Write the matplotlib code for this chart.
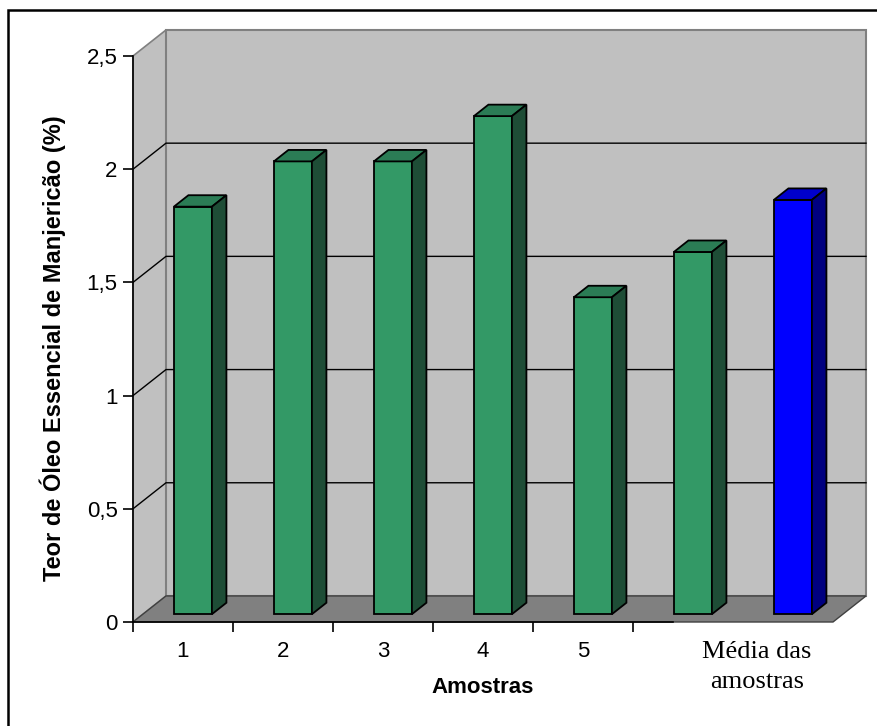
import matplotlib
matplotlib.use("Agg")
import matplotlib.pyplot as plt
from matplotlib.patches import Polygon, Rectangle

# Oil content per sample, plus the mean of the samples as last bar
categorias = ["1", "2", "3", "4", "5", "", "Média das\namostras"]
teor = [1.8, 2.0, 2.0, 2.2, 1.4, 1.6, 1.83]
cores_frente = ["#339966"] * 6 + ["#0000FF"]
cores_topo = ["#2B7C55"] * 6 + ["#0000CC"]
cores_lado = ["#1E4D36"] * 6 + ["#000080"]
y_ticks = [0, 0.5, 1, 1.5, 2, 2.5]
y_ticklabels = ["0", "0,5", "1", "1,5", "2", "2,5"]

# oblique "3D" offset of the full depth, in data units
DX, DY = 0.33, 0.115
d0, d1 = 0.30, 0.74       # bar depth range (fraction of full depth)
largura = 0.38

plt.rcParams["font.family"] = ["Liberation Sans", "DejaVu Sans"]

fig = plt.figure(figsize=(8.78, 7.26), dpi=100)
ax = fig.add_axes([133 / 878, 104 / 726, 700 / 878, 566 / 726])
n = len(teor)
ax.set_xlim(0, n)
ax.set_ylim(0, 2.5)
ax.patch.set_visible(False)


def poly(pts, fc, ec, lw=1.0, z=1):
    ax.add_patch(Polygon(pts, closed=True, facecolor=fc, edgecolor=ec,
                         linewidth=lw, zorder=z, clip_on=False,
                         joinstyle="miter"))


# walls and floor
poly([(0, 0), (DX, DY), (DX, 2.5 + DY), (0, 2.5)], "#C0C0C0", "#808080", 1.2, 0)
poly([(DX, DY), (n + DX, DY), (n + DX, 2.5 + DY), (DX, 2.5 + DY)],
     "#C0C0C0", "#808080", 1.5, 0)
for v in y_ticks[1:-1]:
    ax.plot([0, DX, n + DX], [v, v + DY, v + DY], color="black", lw=1.0,
            zorder=0.5, clip_on=False)
poly([(0, 0), (n, 0), (n + DX, DY), (DX, DY)], "#808080", "#404040", 1.0, 0.8)

# bars
for i, v in enumerate(teor):
    x0 = i + 0.5 - largura / 2
    x1 = i + 0.5 + largura / 2
    a0, b0 = d0 * DX, d0 * DY
    a1, b1 = d1 * DX, d1 * DY
    poly([(x0 + a0, b0), (x1 + a0, b0), (x1 + a0, v + b0), (x0 + a0, v + b0)],
         cores_frente[i], "black", 1.3, 2)
    poly([(x0 + a0, v + b0), (x1 + a0, v + b0), (x1 + a1, v + b1), (x0 + a1, v + b1)],
         cores_topo[i], "black", 1.3, 2)
    poly([(x1 + a0, b0), (x1 + a1, b1), (x1 + a1, v + b1), (x1 + a0, v + b0)],
         cores_lado[i], "black", 1.3, 2)

# axes
for s in ["top", "right"]:
    ax.spines[s].set_visible(False)
ax.spines["left"].set_linewidth(1.2)
ax.spines["bottom"].set_linewidth(1.2)
ax.spines["bottom"].set_bounds(0, 5.4)
ax.spines["left"].set_zorder(3)
ax.spines["bottom"].set_zorder(3)

ax.set_yticks(y_ticks)
ax.set_yticklabels(y_ticklabels, fontsize=16)
ax.tick_params(axis="y", direction="out", length=7, width=1.2, pad=4)

ax.set_xticks(range(0, 6))
ax.set_xticklabels([])
ax.tick_params(axis="x", which="major", direction="out", length=7, width=1.2)
ax.set_xticks([i + 0.5 for i in range(5)], minor=True)
ax.set_xticklabels(categorias[:5], minor=True, fontsize=16)
ax.tick_params(axis="x", which="minor", length=0, pad=14)

ax.text(6.24, -0.079, categorias[-1], transform=ax.get_xaxis_transform(),
        ha="center", va="center", fontsize=19, family="Liberation Serif",
        linespacing=1.45)

ax.set_ylabel("Teor de Óleo Essencial de Manjericão (%)", fontsize=17,
              fontweight="bold")
ax.yaxis.set_label_coords(-0.096, 0.484)
ax.set_xlabel("Amostras", fontsize=16, fontweight="bold")
ax.xaxis.set_label_coords(0.499, -0.097)

# outer frame
fig.patches.append(Rectangle((8 / 878, -0.01), 1.0, 1 - 10 / 726 + 0.01,
                             transform=fig.transFigure, fill=False,
                             edgecolor="black", linewidth=1.8))

fig.savefig("out.png", dpi=100)
